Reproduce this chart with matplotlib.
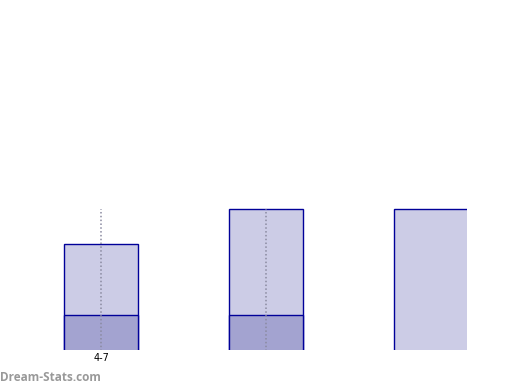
import matplotlib
matplotlib.use("Agg")
import matplotlib.pyplot as plt

# data
categories = ["4-7", "", ""]
totals = [3.0, 4.0, 4.0]      # full bar height
lower = [1.0, 1.0, 0.0]       # darker bottom segment
whisker_top = [4.0, 4.0, None]

fig = plt.figure(figsize=(5.2, 3.9), dpi=100)
ax = fig.add_axes([0.0, 40 / 390, 467 / 520, 350 / 390])

x = list(range(len(categories)))
width = 0.45
edge = "#000099"

ax.bar(x, totals, width, color="#CCCCE6", edgecolor=edge, linewidth=1.0, zorder=2)
for xi, lo in zip(x, lower):
    if lo > 0:
        ax.bar(xi, lo, width, color="#A3A3D0", edgecolor=edge, linewidth=1.0, zorder=3)

for xi, wt in zip(x, whisker_top):
    if wt is not None:
        ax.plot([xi, xi], [0, wt], color="#8a8aa0", linestyle=(0, (1, 1.5)),
                linewidth=1.1, zorder=4)

# edges sit just outside the limits so the bottom / far right borders are clipped
ax.set_xlim(-101 / 164.5, 2 + width / 2 - 0.006)
ax.set_ylim(0.03, 9.86)
ax.set_xticks([0])
ax.set_xticklabels([categories[0]], fontsize=7)
ax.tick_params(axis="x", length=0, pad=2)
ax.set_yticks([])
for s in ax.spines.values():
    s.set_visible(False)

fig.text(0.0, 0.015, "Dream-Stats.com", fontsize=8.5, color="#999999",
         family=["Open Sans", "DejaVu Sans"], fontweight="bold",
         ha="left", va="bottom")

fig.savefig("out.png", dpi=100, facecolor="white")
